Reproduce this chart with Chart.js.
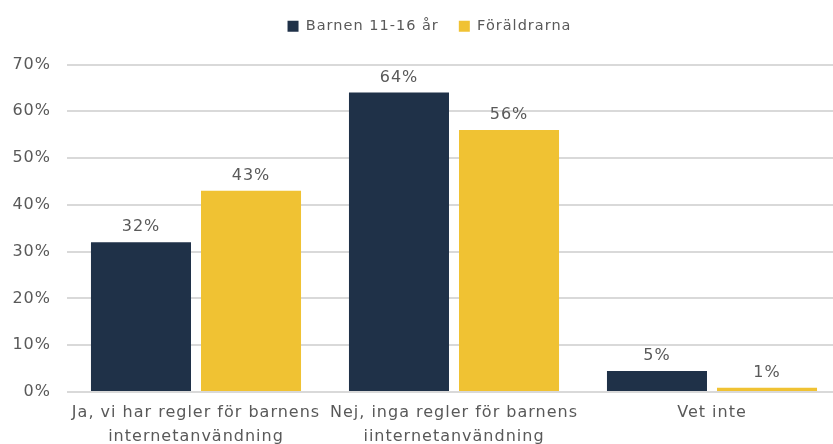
<!DOCTYPE html>
<html>
<head>
<meta charset="utf-8">
<script src="https://cdn.jsdelivr.net/npm/chart.js@4"></script>
<style>
  html, body { margin: 0; padding: 0; background: #fff; overflow: hidden; width: 833px; height: 444px; }
  canvas { display: block; }
</style>
</head>
<body>
<canvas id="chartCanvas" width="850" height="458"></canvas>
<script>
const categories = [
    ["Ja, vi har regler för barnens", "internetanvändning"],
    ["Nej, inga regler för barnens", "iinternetanvändning"],
    "Vet inte"
];
const seriesNames = ["Barnen 11-16 år", "Föräldrarna"];
const barnen = [32, 64, 4.5];
const foraldrarna = [43, 56, 0.9];
const yTicks = [0, 10, 20, 30, 40, 50, 60, 70];

const textColor = "#595959";
const fontFamily = "'DejaVu Sans', sans-serif";

// bredare teckenavstånd, som i originalet
const spacing = {
    id: 'spacing',
    beforeLayout(chart) { chart.ctx.letterSpacing = "1px"; },
    beforeDraw(chart) { chart.ctx.letterSpacing = "1px"; }
};

// mer luft under förklaringen, och flytta den lite
const legendGap = {
    id: 'legendGap',
    beforeInit(chart) {
        const fit = chart.legend.fit;
        chart.legend.fit = function() {
            fit.bind(chart.legend)();
            this.height += 14;
        };
    },
    afterLayout(chart) {
        const lg = chart.legend;
        lg.top -= 7;
        lg.bottom -= 7;
        lg.left += 9;
        lg.right += 9;
    }
};

// etiketter ovanför staplarna
const barLabels = {
    id: 'barLabels',
    afterDatasetsDraw(chart) {
        const ctx = chart.ctx;
        ctx.save();
        ctx.font = "16px " + fontFamily;
        ctx.fillStyle = textColor;
        ctx.textAlign = "center";
        ctx.textBaseline = "bottom";
        chart.data.datasets.forEach((ds, i) => {
            chart.getDatasetMeta(i).data.forEach((bar, j) => {
                ctx.fillText(Math.round(ds.data[j]) + "%", bar.x, bar.y - 7);
            });
        });
        ctx.restore();
    }
};

const ctx = document.getElementById('chartCanvas').getContext('2d');
new Chart(ctx, {
    type: 'bar',
    data: {
        labels: categories,
        datasets: [
            { label: seriesNames[0], data: barnen, backgroundColor: "#1F3148",
              categoryPercentage: 0.853, barPercentage: 0.909 },
            { label: seriesNames[1], data: foraldrarna, backgroundColor: "#F0C233",
              categoryPercentage: 0.853, barPercentage: 0.909 }
        ]
    },
    options: {
        responsive: false,
        animation: false,
        devicePixelRatio: 1,
        layout: { padding: { top: 6, right: 9, left: 0, bottom: 0 } },
        plugins: {
            legend: {
                position: 'top',
                labels: {
                    boxWidth: 11,
                    boxHeight: 11,
                    color: textColor,
                    font: { size: 14.5, family: fontFamily },
                    padding: 20
                }
            },
            tooltip: { enabled: false }
        },
        scales: {
            x: {
                grid: { display: false, drawTicks: false },
                border: { display: false },
                ticks: {
                    color: textColor,
                    font: { size: 16, family: fontFamily, lineHeight: 1.5 },
                    maxRotation: 0,
                    autoSkip: false,
                    padding: 9
                }
            },
            y: {
                min: 0,
                max: 70,
                afterBuildTicks: (scale) => { scale.ticks = yTicks.map(v => ({ value: v })); },
                afterFit: (scale) => { scale.width = 67; },
                grid: { color: "#D9D9D9", lineWidth: 2, drawTicks: false },
                border: { display: false },
                ticks: {
                    color: textColor,
                    font: { size: 16, family: fontFamily },
                    padding: 16,
                    callback: (v) => v + "%"
                }
            }
        }
    },
    plugins: [spacing, legendGap, barLabels]
});
</script>
</body>
</html>
